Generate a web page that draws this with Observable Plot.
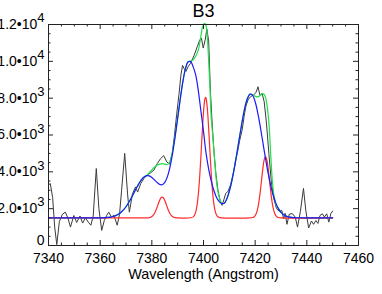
<!DOCTYPE html>
<html><head><meta charset="utf-8">
<script src="https://cdn.jsdelivr.net/npm/d3@7"></script>
<script src="https://cdn.jsdelivr.net/npm/@observablehq/plot@0.6"></script>
<style>html,body{margin:0;padding:0;background:#fff}svg{display:block;overflow:visible}</style>
</head><body><div id="chart"></div>
<script>
// ---- data ----
const title = "B3";
const xLabel = "Wavelength (Angstrom)";
const xTickValues = [7340, 7360, 7380, 7400, 7420, 7440, 7460];
const xTickLabels = ["7340", "7360", "7380", "7400", "7420", "7440", "7460"];
const yTickValues = [0, 2000, 4000, 6000, 8000, 10000, 12000];
const yTickMantissa = ["0", "2.0•10", "4.0•10", "6.0•10", "8.0•10", "1.0•10", "1.2•10"];
const yTickExponent = ["", "3", "3", "3", "3", "4", "4"];

// observed spectrum (dark grey)
const obsWave = [7340.0,7340.7,7341.6,7342.4,7343.2,7344.2,7345.4,7346.5,7347.5,7348.5,7349.8,7350.9,7352.2,7353.2,7354.3,7355.4,7356.4,7357.3,7358.5,7359.5,7360.6,7361.6,7362.5,7363.3,7364.4,7365.3,7366.6,7367.5,7368.3,7369.5,7370.6,7371.3,7372.5,7373.7,7374.5,7375.7,7377.0,7378.2,7379.5,7380.8,7382.1,7383.4,7384.6,7385.8,7386.8,7387.9,7388.7,7389.6,7390.5,7391.3,7391.9,7392.5,7393.2,7394.0,7395.0,7396.3,7397.6,7398.5,7399.2,7399.9,7400.7,7401.3,7402.0,7402.7,7403.4,7404.1,7404.8,7405.6,7406.5,7407.2,7407.9,7408.6,7409.5,7410.5,7411.5,7412.4,7413.2,7414.0,7415.0,7415.7,7416.4,7417.2,7418.2,7419.4,7420.3,7421.1,7421.8,7422.7,7423.5,7424.4,7425.3,7426.3,7427.3,7428.3,7429.3,7430.3,7431.0,7431.6,7432.3,7433.2,7434.4,7435.5,7436.4,7437.5,7438.7,7439.6,7440.7,7441.8,7442.6,7443.5,7444.3,7445.1,7446.0,7446.8,7447.7,7448.5,7449.3,7450.0];
const obsFlux = [3300,3360,2600,1000,50,1300,1700,1810,1500,1000,1630,1250,1600,1220,1500,1270,1100,1600,4180,2000,820,1360,1630,1810,1540,1650,1100,1700,3000,5000,2800,1810,2800,3180,2900,3360,3650,3820,3950,4090,4450,4720,4880,4540,4420,5000,5900,7100,8200,9300,9780,9600,9450,9700,9900,10300,10800,11150,11260,10720,11200,11750,11100,8300,6500,5000,3900,3000,2400,2180,2500,2820,2950,3300,3900,4600,5100,5700,6300,7000,7550,7900,8080,8180,8300,8620,8180,8250,7800,6600,5000,3400,2500,2000,1850,1900,1450,1750,1150,1700,1730,1540,1000,1850,3100,1900,950,1330,1150,1350,1200,1630,1720,1550,1720,1270,1730,1870];

// broad components (blue)
const blueWave = [7340,7350,7360,7362,7363,7364,7365,7366,7367,7368,7369,7370,7371,7372,7373,7374,7375,7376,7377,7378,7379,7380,7381,7382,7383,7384,7385,7386,7387,7388,7389,7390,7391,7392,7393,7394,7395,7396,7397,7398,7399,7400,7401,7402,7403,7404,7405,7406,7407,7408,7409,7410,7411,7412,7413,7414,7415,7416,7417,7418,7419,7420,7421,7422,7423,7424,7425,7426,7427,7428,7429,7430,7431,7432,7433,7434,7435,7436,7440,7450];
const blueFlux = [1500,1500,1500,1513,1524,1543,1573,1621,1692,1793,1930,2105,2320,2568,2837,3110,3363,3575,3722,3792,3780,3698,3567,3426,3320,3301,3423,3727,4243,4974,5886,6913,7953,8885,9589,9967,9990,9700,9250,8400,7300,6200,5000,4150,3500,3000,2620,2400,2280,2290,2530,2950,3529,4248,5068,5930,6760,7471,7978,8216,8156,7804,7207,6438,5583,4727,3938,3260,2714,2301,2005,1804,1675,1596,1551,1525,1512,1506,1500,1500];

// narrow components (red)
const redWave = [7340,7360,7378,7379,7379.5,7380,7380.5,7381,7381.5,7382,7382.5,7383,7383.5,7384,7384.5,7385,7385.5,7386,7386.5,7387,7387.5,7388,7388.5,7389,7390,7395,7396,7396.5,7397,7397.5,7398,7398.5,7399,7399.5,7400,7400.5,7400.8,7401,7401.5,7402,7402.5,7403,7403.5,7404,7404.5,7405,7405.5,7406,7407,7418,7419,7419.5,7420,7420.5,7421,7421.5,7422,7422.5,7423,7423.5,7424,7424.5,7425,7425.5,7426,7426.5,7427,7427.5,7428,7428.5,7429,7430,7450];
const redFlux = [1500,1500,1502,1515,1534,1571,1636,1738,1883,2066,2266,2450,2582,2630,2582,2450,2266,2066,1883,1738,1636,1571,1534,1515,1502,1506,1554,1640,1824,2179,2781,3678,4837,6108,7233,7928,8050,7996,7415,6354,5089,3892,2936,2278,1879,1667,1566,1524,1501,1502,1518,1549,1619,1760,2012,2407,2948,3585,4205,4661,4830,4661,4205,3585,2948,2407,2012,1760,1619,1549,1518,1502,1500];

// total fit (green)
const greenWave = [7340,7350,7360,7362,7364,7366,7368,7370,7372,7374,7376,7377,7378,7379,7380,7381,7382,7383,7384,7385,7386,7387,7388,7389,7390,7391,7392,7393,7394,7395,7396,7397,7398,7398.5,7399,7399.5,7400,7400.5,7401,7401.5,7402,7402.5,7403,7403.5,7404,7404.5,7405,7405.5,7406,7406.5,7407,7408,7409,7410,7411,7412,7413,7414,7415,7416,7417,7418,7419,7420,7421,7422,7422.7,7423.5,7424,7424.5,7425,7425.5,7426,7426.5,7427,7427.5,7428,7428.5,7429,7430,7431,7432,7434,7436,7440,7450];
const greenFlux = [1500,1500,1500,1513,1543,1621,1793,2105,2568,3110,3575,3722,3800,3950,4100,4250,4360,4420,4450,4420,4400,4550,5100,5950,6913,7953,8885,9589,9967,10020,10090,10280,10620,10950,11380,11800,12000,12060,11920,11300,10000,8600,6900,6100,5200,4300,3500,3000,2650,2450,2300,2290,2530,2950,3529,4248,5068,5930,6760,7471,7978,8218,8180,8110,8070,8160,8240,8200,8050,7700,7150,6300,5000,3800,3000,2550,2250,2080,2020,1806,1676,1596,1525,1506,1500,1500];

// ---- build tables ----
const obs = obsWave.map((w, i) => ({w, f: obsFlux[i]}));
const blue = blueWave.map((w, i) => ({w, f: blueFlux[i]}));
const red = redWave.map((w, i) => ({w, f: redFlux[i]}));
const green = greenWave.map((w, i) => ({w, f: greenFlux[i]}));
const yTicks = yTickValues.map((v, i) => ({v, m: yTickMantissa[i], e: yTickExponent[i]}));
const xTicks = xTickValues.map((v, i) => ({v, t: xTickLabels[i]}));

const W = 382, H = 294, mL = 48, mR = 24, mT = 24, mB = 49;
const plotW = W - mL - mR, plotH = H - mT - mB;
const xMinor = d3.range(7340, 7461, 5).filter(v => v % 20 !== 0);
const yMinor = d3.range(0, 12001, 500).filter(v => v % 2000 !== 0);
const axisColor = "#222";
const font = "'Liberation Sans', Arial, Helvetica, sans-serif";

const chart = Plot.plot({
  width: W, height: H,
  marginLeft: mL, marginRight: mR, marginTop: mT, marginBottom: mB,
  x: {domain: [7340, 7460], axis: null},
  y: {domain: [0, 12000], axis: null},
  style: {fontFamily: font, background: "#fff", color: "#000", overflow: "visible"},
  marks: [
    Plot.line(obs, {x: "w", y: "f", stroke: "#3a3a3a", strokeWidth: 1}),
    Plot.line(green, {x: "w", y: "f", stroke: "#1fe04a", strokeWidth: 1.2, curve: "catmull-rom"}),
    Plot.line(red, {x: "w", y: "f", stroke: "#ff2a2a", strokeWidth: 1.2, curve: "catmull-rom"}),
    Plot.line(blue, {x: "w", y: "f", stroke: "#1a1aff", strokeWidth: 1.2, curve: "catmull-rom"}),
    Plot.frame({stroke: axisColor}),
    // x ticks (bottom & top, pointing inward)
    Plot.ruleX(xTickValues, {insetTop: plotH - 5, stroke: axisColor}),
    Plot.ruleX(xMinor, {insetTop: plotH - 2.5, stroke: axisColor}),
    Plot.ruleX(xTickValues, {insetBottom: plotH - 5, stroke: axisColor}),
    Plot.ruleX(xMinor, {insetBottom: plotH - 2.5, stroke: axisColor}),
    // y ticks (left & right, pointing inward)
    Plot.ruleY(yTickValues, {insetRight: plotW - 5, stroke: axisColor}),
    Plot.ruleY(yMinor, {insetRight: plotW - 2.5, stroke: axisColor}),
    Plot.ruleY(yTickValues, {insetLeft: plotW - 5, stroke: axisColor}),
    Plot.ruleY(yMinor, {insetLeft: plotW - 2.5, stroke: axisColor}),
    // x tick labels
    Plot.text(xTicks, {x: "v", text: "t", frameAnchor: "bottom", lineAnchor: "top", dy: 8, fontSize: 14, fill: "#000"}),
    // y tick labels
    Plot.text(yTicks.filter(d => d.e), {y: "v", text: "m", frameAnchor: "left", textAnchor: "end", lineAnchor: "middle", dx: -11.2, fontSize: 14, fill: "#000"}),
    Plot.text(yTicks.filter(d => d.e), {y: "v", text: "e", frameAnchor: "left", textAnchor: "start", lineAnchor: "middle", dx: -11.2, dy: -6.5, fontSize: 13, fill: "#000"}),
    Plot.text(yTicks.filter(d => !d.e), {y: "v", text: "m", frameAnchor: "left", textAnchor: "end", lineAnchor: "middle", dx: -4, dy: -4.5, fontSize: 14, fill: "#000"}),
    // axis title and chart title
    Plot.text([xLabel], {text: d => d, frameAnchor: "bottom", lineAnchor: "top", dy: 23.5, fontSize: 14.4, fill: "#000"}),
    Plot.text([title], {text: d => d, frameAnchor: "top", lineAnchor: "top", dy: -20, fontSize: 18, fill: "#000"})
  ]
});
document.getElementById("chart").appendChild(chart);
</script>
</body></html>
